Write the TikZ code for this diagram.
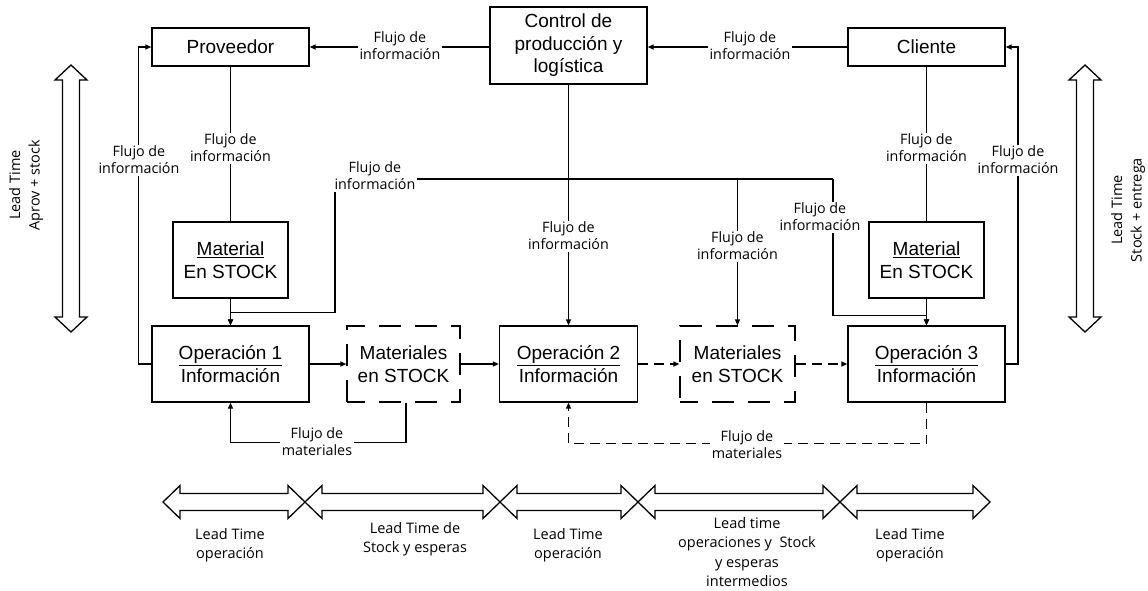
\documentclass[tikz,border=0pt]{standalone}
\usepackage{fontspec}
\setmainfont{Liberation Sans}
\newfontfamily\lblfont{Open Sans}
\usetikzlibrary{arrows.meta}

% hollow double arrows: horizontal {x1}{x2}{y}, vertical {y1}{y2}{x}
\newcommand\hdarrow[3]{%
  \draw[bigarrow] (#1,#3) -- ({#1+17},{#3-16.5}) -- ({#1+17},{#3-8.5}) -- ({#2-17},{#3-8.5})
    -- ({#2-17},{#3-16.5}) -- (#2,#3) -- ({#2-17},{#3+16.5}) -- ({#2-17},{#3+8.5})
    -- ({#1+17},{#3+8.5}) -- ({#1+17},{#3+16.5}) -- cycle;}
\newcommand\vdarrow[3]{%
  \draw[bigarrow] (#3,#1) -- ({#3+16},{#1+15}) -- ({#3+8.5},{#1+15}) -- ({#3+8.5},{#2-15})
    -- ({#3+16},{#2-15}) -- (#3,#2) -- ({#3-16},{#2-15}) -- ({#3-8.5},{#2-15})
    -- ({#3-8.5},{#1+15}) -- ({#3-16},{#1+15}) -- cycle;}

\begin{document}
\begin{tikzpicture}[x=1pt,y=-1pt,
  box/.style={draw,line width=1.3pt,minimum width=157pt,minimum height=76pt,align=center,
    font=\fontsize{19}{22.5}\selectfont,inner sep=0pt},
  stockbox/.style={box,dash pattern=on 22pt off 14pt,dash phase=4pt},
  lbl/.style={font=\lblfont\fontsize{14.3}{17}\selectfont,align=center,fill=white,inner sep=1.5pt},
  ltlbl/.style={font=\lblfont\fontsize{14.5}{19.5}\selectfont,align=center,inner sep=0pt},
  conn/.style={line width=1.5pt},
  arr/.style={conn,-{Triangle[length=6pt,width=5pt]}},
  dconn/.style={conn,dash pattern=on 10pt off 6pt},
  darr/.style={dconn,-{Triangle[length=6pt,width=5pt]}},
  bigarrow/.style={draw,line width=1.3pt,line join=miter}
]
\useasboundingbox (0,0) rectangle (1148,590);

% boxes
\node[box,minimum height=38pt] (prov) at (230.5,47) {Proveedor};
\node[box,minimum height=77pt] (ctrl) at (568.5,45.5) {Control de\\producción y\\logística};
\node[box,minimum height=38pt] (cli) at (926.5,47) {Cliente};
\node[box,minimum width=115pt] (mat1) at (230.5,260) {\underline{Material}\\En STOCK};
\node[box] (op1) at (230.5,364) {\underline{Operación 1}\\Información};
\node[stockbox,minimum width=113pt] (ms1) at (403.5,364) {Materiales\\en STOCK};
\node[box,minimum width=138pt] (op2) at (568.5,364) {\underline{Operación 2}\\Información};
\node[stockbox,minimum width=115pt] (ms2) at (737.5,364) {Materiales\\en STOCK};
\node[box] (op3) at (926.5,364) {\underline{Operación 3}\\Información};
\node[box,minimum width=115pt] (mat2) at (926.5,260) {\underline{Material}\\En STOCK};

% information flows
\draw[arr] (ctrl.west |- prov.east) -- (prov.east);
\draw[arr] (cli.west) -- (ctrl.east |- cli.west);
\draw[conn] (prov.south) -- (mat1.north);
\draw[arr] (mat1.south) -- (op1.north);
\draw[arr] (op1.west) -- ++(-13,0) |- (prov.west);
\draw[arr] (ctrl.south) -- (op2.north);
\coordinate (busL) at (335,179);
\coordinate (busR) at (833,179);
\draw[conn] (busL) -- (busR);
\draw[arr] (busL) |- ([yshift=13pt]op1.north) -- (op1.north);
\draw[arr] (ms2.north |- busR) -- (ms2.north);
\draw[arr] (busR) |- ([yshift=10pt]op3.north) -- (op3.north);
\draw[conn] (cli.south) -- (mat2.north);
\draw[arr] (mat2.south) -- (op3.north);
\draw[arr] (op3.east) -- ++(12.5,0) |- (cli.east);

% material flows
\draw[arr] (op1.east) -- (ms1.west);
\draw[arr] (ms1.east) -- (op2.west);
\draw[darr] (op2.east) -- (ms2.west);
\draw[darr] (ms2.east) -- (op3.west);
\draw[arr] ([xshift=2.5pt]ms1.south) -- ++(0,40) -| (op1.south);
\draw[darr] (op3.south) -- ++(0,41) -| (op2.south);

% flow labels
\node[lbl] (i1) at (400,46) {Flujo de\\información};
\node[lbl] (i2) at (750,46) {Flujo de\\información};
\node[lbl] (i3) at (230.5,148) {Flujo de\\información};
\node[lbl] (i4) at (139,160) {Flujo de\\información};
\node[lbl] (i5) at (375,176) {Flujo de\\información};
\node[lbl] (i6) at (568.5,236) {Flujo de\\información};
\node[lbl] (i7) at (737.5,246) {Flujo de\\información};
\node[lbl] (i8) at (820,217) {Flujo de\\información};
\node[lbl] (i9) at (926.5,148) {Flujo de\\información};
\node[lbl] (i10) at (1018,160) {Flujo de\\información};
\node[lbl] (m1) at (317,442) {Flujo de\\materiales};
\node[lbl] (m2) at (747,445) {Flujo de\\materiales};

% lead time arrows
\vdarrow{65}{332}{71}
\vdarrow{65}{332}{1085}
\hdarrow{163}{305}{502}
\hdarrow{305}{500}{502}
\hdarrow{500}{638}{502}
\hdarrow{638}{840}{502}
\hdarrow{840}{990}{502}

\node[ltlbl,rotate=90] (lt1) at (26,185) {Lead Time\\Aprov + stock};
\node[ltlbl,rotate=90] (lt2) at (1128,210) {Lead Time\\Stock + entrega};
\node[ltlbl] (b1) at (230,545) {Lead Time\\operación};
\node[ltlbl] (b2) at (415,539) {Lead Time de\\Stock y esperas};
\node[ltlbl] (b3) at (568,545) {Lead Time\\operación};
\node[ltlbl] (b4) at (747,552) {Lead time\\operaciones y\ \ Stock\\y esperas\\intermedios};
\node[ltlbl] (b5) at (910,545) {Lead Time\\operación};
\end{tikzpicture}
\end{document}
